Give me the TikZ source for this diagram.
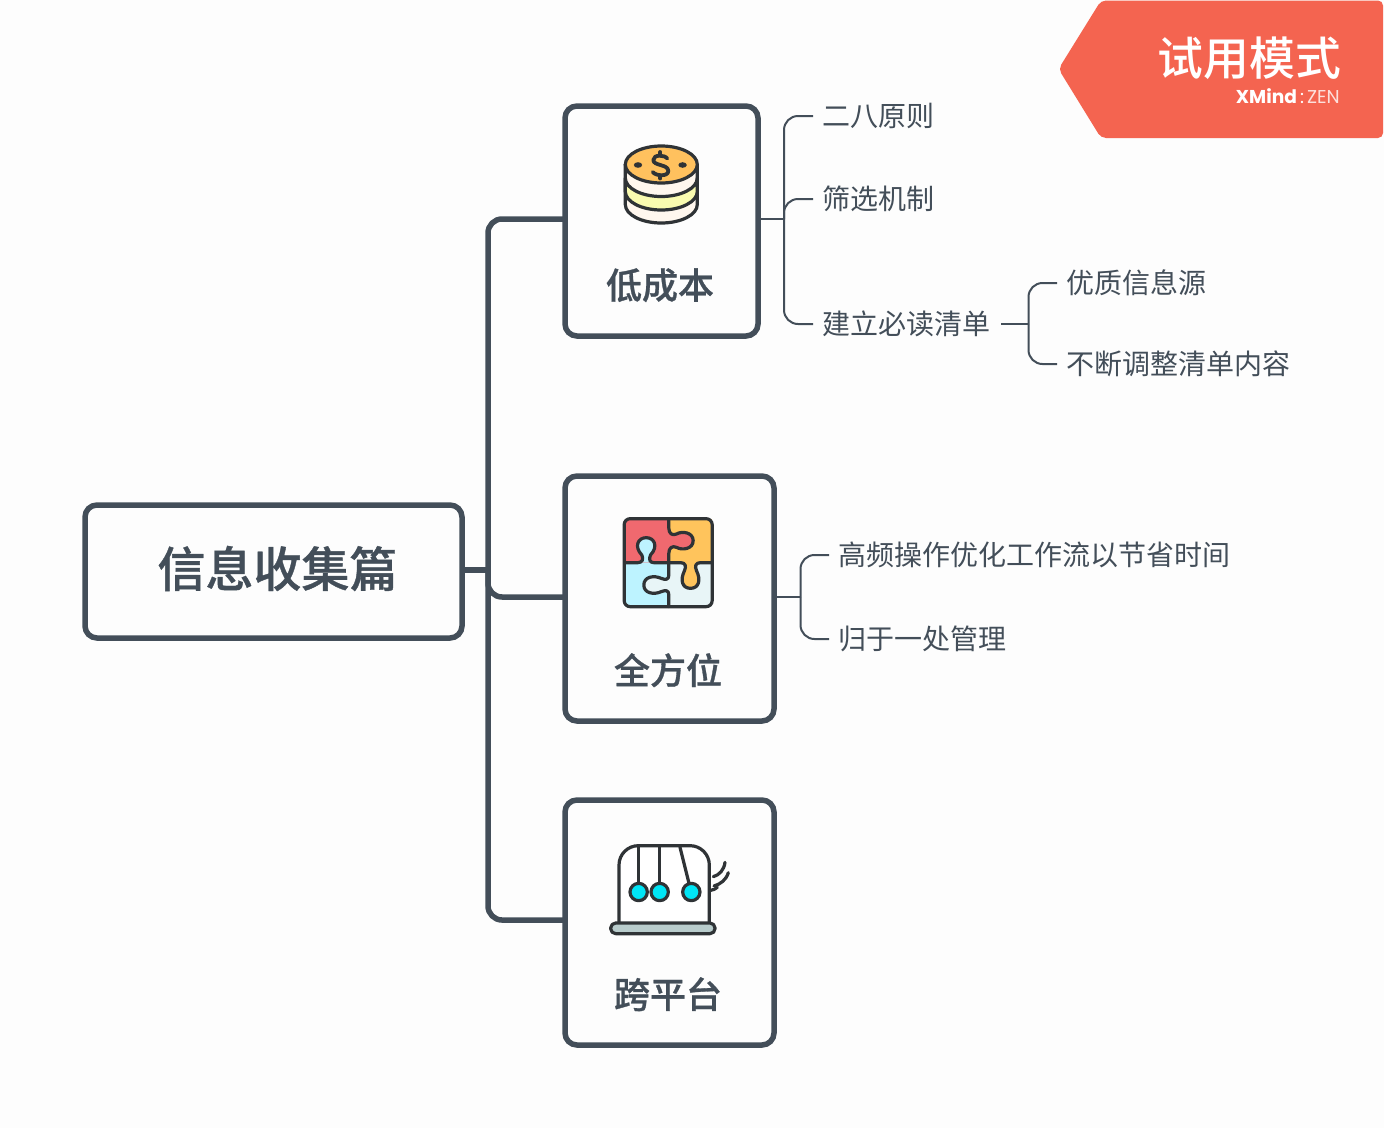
\documentclass[tikz,border=0pt]{standalone}
\usepackage{fontspec}
\setmainfont{Noto Sans CJK SC}
\newfontfamily\medfont{Noto Sans CJK SC Medium}
\newfontfamily\topicfont[FakeBold=0.8]{Noto Sans CJK SC Medium}
\newfontfamily\latinfont{Poppins}
\definecolor{bgc}{HTML}{FDFDFD}
\definecolor{linec}{HTML}{434E59}
\definecolor{flagc}{HTML}{F46450}
\definecolor{ink}{HTML}{2F3336}
\definecolor{coinor}{HTML}{FFC15E}
\definecolor{coincr}{HTML}{FFF7EE}
\definecolor{coinye}{HTML}{F9FBB0}
\definecolor{pzred}{HTML}{F0696F}
\definecolor{pzor}{HTML}{FFC45C}
\definecolor{pzbl}{HTML}{BDF3FF}
\definecolor{pzpa}{HTML}{E8F5F7}
\definecolor{ballc}{HTML}{00E5F5}
\definecolor{basec}{HTML}{B8CCCC}
\tikzset{
  x=1pt,y=-1pt,
  topicbox/.style={draw=linec,line width=5.5pt,rounded corners=12pt,outer sep=0pt,inner sep=0pt,fill=bgc},
  topiclabel/.style={text=linec,font=\fontsize{36}{36}\selectfont\topicfont,inner sep=0pt},
  sublabel/.style={text=linec,font=\fontsize{28}{28}\selectfont,anchor=west,inner xsep=9.5pt,inner ysep=0pt,outer sep=0pt},
  thick link/.style={draw=linec,line width=5.5pt,rounded corners=14pt},
  thin link/.style={draw=linec,line width=2pt,rounded corners=14pt},
  icon/.style={draw=ink,line width=3.2pt,line join=round,line cap=round},
}
\def\tabA{(75,188) -- (112,188) .. controls (125,188) and (130,178) .. (124,165) .. controls (100,140) and (112,113) .. (137,113) .. controls (162,113) and (174,140) .. (150,165) .. controls (144,178) and (148,188) .. (160,188) -- (205,188)}
\def\tabB{(205,60) -- (205,85) .. controls (205,100) and (215,108) .. (228,102) .. controls (245,92) and (278,97) .. (278,122) .. controls (278,147) and (245,152) .. (228,142) .. controls (215,136) and (205,144) .. (205,160) -- (205,188)}
\def\tabC{(205,188) -- (240,188) .. controls (255,188) and (258,198) .. (252,212) .. controls (238,240) and (245,265) .. (270,265) .. controls (295,265) and (302,240) .. (288,212) .. controls (282,198) and (285,188) .. (300,188) -- (333,188)}
\def\tabD{(205,188) -- (205,225) .. controls (205,240) and (195,240) .. (182,235) .. controls (160,225) and (130,230) .. (130,255) .. controls (130,280) and (160,285) .. (182,275) .. controls (195,270) and (205,270) .. (205,285) -- (205,320)}
\begin{document}
\begin{tikzpicture}
\useasboundingbox (0,0) rectangle (1384,1128);
\fill[bgc] (0,0) rectangle (1384,1128);

% trial flag
\fill[flagc,rounded corners=5pt] (1101,0.5) -- (1058.5,69) -- (1101,138) -- (1383,138) -- (1383,0.5) -- cycle;
\node[anchor=east,text=white,font=\fontsize{45.8}{46}\selectfont\medfont,inner sep=0pt] (trial) at (1341,58) {试用模式};
\node[anchor=east,text=white,font=\fontsize{18.6}{19}\selectfont\latinfont,inner sep=0pt] (brand) at (1340,96) {\textbf{XMind}\,:\,\textcolor{white!80!flagc}{ZEN}};

% boxes
\node[topicbox,minimum width=377pt,minimum height=133pt] (root) at (273.5,571.5) {};
\node[topicbox,minimum width=193pt,minimum height=230pt] (low) at (661.5,221) {};
\node[topicbox,minimum width=209pt,minimum height=245pt] (all) at (669.5,598.5) {};
\node[topicbox,minimum width=209pt,minimum height=245pt] (cross) at (669.5,922.5) {};
\node[text=linec,font=\fontsize{48}{48}\selectfont\topicfont,inner sep=0pt] (rootlabel) at (277.5,568.5) {信息收集篇};
\node[topiclabel] (lowlabel) at (660,285.2) {低成本};
\node[topiclabel] (alllabel) at (668,670.2) {全方位};
\node[topiclabel] (crosslabel) at (668,994.2) {跨平台};

% sub topics
\node[sublabel] (a1) at (813,116) {二八原则};
\node[sublabel] (a2) at (813,199) {筛选机制};
\node[sublabel] (a3) at (813,324) {建立必读清单};
\node[sublabel] (b1) at (1057,283) {优质信息源};
\node[sublabel] (b2) at (1057,364) {不断调整清单内容};
\node[sublabel] (c1) at (829,555) {高频操作优化工作流以节省时间};
\node[sublabel] (c2) at (829,639) {归于一处管理};

% thick connectors
\coordinate (tj) at (488,570);
\draw[draw=linec,line width=5.5pt] (root.east |- tj) -- (tj);
\draw[thick link] (tj) -- (488,219) -- (565,219);
\draw[thick link] (tj) -- (488,597) -- (565,597);
\draw[thick link] (tj) -- (488,920) -- (565,920);

% thin connectors
\coordinate (j1) at (784,219);
\draw[draw=linec,line width=2pt] (758,219) -- (j1);
\draw[thin link] (j1) -- (j1 |- a1.west) -- (a1.west);
\draw[thin link] (j1) -- (j1 |- a2.west) -- (a2.west);
\draw[thin link] (j1) -- (j1 |- a3.west) -- (a3.west);
\coordinate (j2) at (1028.5,324);
\draw[draw=linec,line width=2pt] (1001,324) -- (j2);
\draw[thin link] (j2) -- (j2 |- b1.west) -- (b1.west);
\draw[thin link] (j2) -- (j2 |- b2.west) -- (b2.west);
\coordinate (j3) at (800.5,597);
\draw[draw=linec,line width=2pt] (all.east |- j3) -- (j3);
\draw[thin link] (j3) -- (j3 |- c1.west) -- (c1.west);
\draw[thin link] (j3) -- (j3 |- c2.west) -- (c2.west);

% coin icon
\begin{scope}[xshift=-0.7pt]
\filldraw[icon,fill=coincr] (626,164.5) -- (626,204.5) arc[start angle=180,end angle=360,x radius=36,y radius=-18.5] -- (698,164.5) -- cycle;
\filldraw[icon,fill=coinye] (626,191.5) arc[start angle=180,end angle=360,x radius=36,y radius=-18.5] -- (698,178) arc[start angle=360,end angle=180,x radius=36,y radius=-18.5] -- cycle;
\filldraw[icon,fill=coinor] (662,164.5) ellipse[x radius=36,y radius=18.5];
\fill[ink] (638.7,165) ellipse[x radius=4.2,y radius=2.8];
\fill[ink] (683.3,165) ellipse[x radius=4.2,y radius=2.8];
\draw[icon,line width=3.8pt] (668,158.5) .. controls (666,155) and (654,154) .. (654,160) .. controls (654,166) and (669,164) .. (669,171) .. controls (669,177) and (656,176) .. (653.5,172);
\draw[icon,line width=3.8pt] (661,152) -- (661,154.5);
\draw[icon,line width=3.8pt] (661,176) -- (661,178.5);
\end{scope}

% puzzle icon
\begin{scope}[shift={(600.5,500)},scale=1/3]
\fill[pzred] (72,57) rectangle (205,188);
\fill[pzor] (205,57) rectangle (335,188);
\fill[pzbl] (72,188) rectangle (205,320);
\fill[pzpa] (205,188) rectangle (335,320);
\fill[pzbl] \tabA -- cycle;
\fill[pzred] \tabB -- cycle;
\fill[pzor] \tabC -- cycle;
\fill[pzpa] \tabD -- cycle;
\draw[icon] \tabA;
\draw[icon] \tabB;
\draw[icon] \tabC;
\draw[icon] \tabD;
\draw[icon,rounded corners=6pt] (71,56) rectangle (335,320);
\end{scope}

% cradle icon
\begin{scope}[shift={(590,830)},scale=1/3]
\filldraw[icon,fill=white] (87,278) -- (87,105) .. controls (87,73) and (113,47) .. (145,47) -- (300,47) .. controls (332,47) and (358,73) .. (358,105) -- (358,278);
\draw[icon] (145,47) -- (145,160);
\draw[icon] (209,47) -- (209,160);
\draw[icon] (270,52) -- (297,160);
\filldraw[icon,fill=ballc] (146,186) circle[radius=26];
\filldraw[icon,fill=ballc] (209,186) circle[radius=26];
\filldraw[icon,fill=ballc] (304,186) circle[radius=26];
\filldraw[icon,fill=basec,rounded corners=5pt] (62,279) rectangle (375,311);
\draw[icon] (370,140) .. controls (388,135) and (402,120) .. (405,97);
\draw[icon] (372,168) .. controls (392,162) and (408,150) .. (415,128);
\draw[icon] (362,181) .. controls (370,180) and (376,177) .. (382,172);
\end{scope}
\end{tikzpicture}
\end{document}
